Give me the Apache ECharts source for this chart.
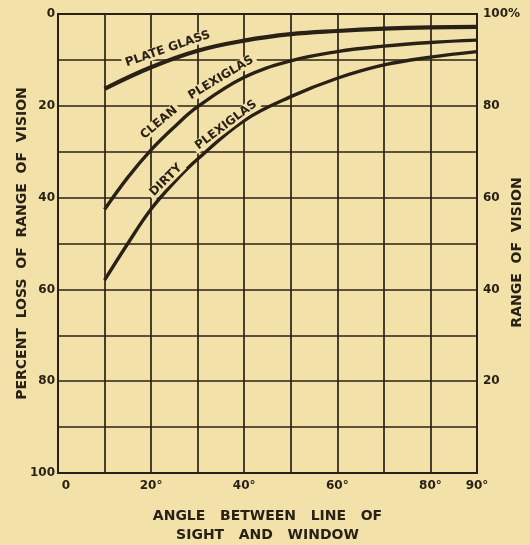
<!DOCTYPE html>
<html><head><meta charset="utf-8">
<script src="https://cdn.jsdelivr.net/npm/echarts@6/dist/echarts.min.js"></script>
<style>html,body{margin:0;padding:0;background:#f2e2aa;}#c{width:530px;height:545px;}</style>
</head><body><div id="c"></div>
<script>
// Angle between line of sight and window (degrees)
var plateX = [10, 20, 30, 40, 50, 60, 70, 80, 90];
var plateY = [16.3, 11.6, 8.0, 5.8, 4.4, 3.7, 3.2, 2.9, 2.8];
var cleanX = [10, 15, 20, 25, 30, 40, 50, 60, 70, 80, 90];
var cleanY = [42.6, 35.6, 29.6, 24.6, 20.2, 13.8, 10.2, 8.2, 7.0, 6.2, 5.7];
var dirtyX = [10, 15, 20, 25, 30, 40, 50, 60, 70, 80, 90];
var dirtyY = [58.0, 50.0, 42.5, 36.6, 31.6, 23.2, 18.0, 14.0, 11.1, 9.4, 8.2];
// Curve labels (text, data position, rotation in degrees)
var curveLabelText = ['PLATE GLASS', 'CLEAN', 'PLEXIGLAS', 'DIRTY', 'PLEXIGLAS'];
var curveLabelX = [23.6, 21.7, 35.0, 23.2, 36.1];
var curveLabelY = [7.6, 23.7, 13.9, 36.2, 24.2];
var curveLabelRot = [19, 40, 31, 45, 37];

var ink = '#2a2116', bg = '#f2e2aa';
var font = 'DejaVu Sans';
function pairs(xs, ys) { return xs.map(function (x, i) { return [x, ys[i]]; }); }

var chart = echarts.init(document.getElementById('c'));
chart.setOption({
  backgroundColor: bg,
  animation: false,
  grid: { left: 58, right: 53, top: 14, bottom: 72, outerBoundsMode: 'none', containLabel: false, show: true, borderColor: ink, borderWidth: 2, backgroundColor: 'transparent' },
  xAxis: {
    type: 'value', min: 0, max: 90, interval: 10,
    name: 'ANGLE   BETWEEN   LINE   OF\nSIGHT   AND   WINDOW', nameLocation: 'middle', nameGap: 34, nameMoveOverlap: false,
    nameTextStyle: { color: ink, fontFamily: font, fontWeight: 'bold', fontSize: 14, lineHeight: 19 },
    axisLine: { show: true, lineStyle: { color: ink, width: 2 } },
    axisTick: { show: false },
    splitLine: { show: true, lineStyle: { color: ink, width: 1.7 } },
    axisLabel: {
      color: ink, fontFamily: font, fontWeight: 'bold', fontSize: 12, margin: 7,
      formatter: function (v) {
        if (v === 0) return '{z|0}';
        if (v % 20 === 0 || v === 90) return v + '°';
        return '';
      },
      rich: { z: { padding: [0, 0, 0, 16], color: ink, fontFamily: font, fontWeight: 'bold', fontSize: 12 } }
    }
  },
  yAxis: [{
    type: 'value', min: 0, max: 100, interval: 10, inverse: true, position: 'left',
    name: 'PERCENT  LOSS  OF  RANGE  OF  VISION', nameLocation: 'middle', nameGap: 29, nameRotate: 90, nameMoveOverlap: false,
    nameTextStyle: { color: ink, fontFamily: font, fontWeight: 'bold', fontSize: 14 },
    axisLine: { show: true, lineStyle: { color: ink, width: 2 } },
    axisTick: { show: false },
    splitLine: { show: true, lineStyle: { color: ink, width: 1.7 } },
    axisLabel: {
      color: ink, fontFamily: font, fontWeight: 'bold', fontSize: 12, margin: 3,
      formatter: function (v) { return v % 20 === 0 ? String(v) : ''; }
    }
  }, {
    type: 'value', min: 0, max: 100, interval: 10, position: 'right',
    name: 'RANGE  OF  VISION', nameLocation: 'middle', nameGap: 33, nameRotate: 90, nameMoveOverlap: false,
    nameTextStyle: { color: ink, fontFamily: font, fontWeight: 'bold', fontSize: 14, padding: [0, 18, 0, 0] },
    axisLine: { show: true, lineStyle: { color: ink, width: 2 } },
    axisTick: { show: false },
    splitLine: { show: false },
    axisLabel: {
      color: ink, fontFamily: font, fontWeight: 'bold', fontSize: 12, margin: 6,
      formatter: function (v) { return v === 100 ? '100%' : (v > 0 && v % 20 === 0 ? String(v) : ''); }
    }
  }],
  series: [
    { type: 'line', name: 'Plate glass', data: pairs(plateX, plateY), smooth: 0.4, showSymbol: false, lineStyle: { color: ink, width: 4.2, cap: 'butt' } },
    { type: 'line', name: 'Clean plexiglas', data: pairs(cleanX, cleanY), smooth: 0.4, showSymbol: false, lineStyle: { color: ink, width: 3.4, cap: 'butt' } },
    { type: 'line', name: 'Dirty plexiglas', data: pairs(dirtyX, dirtyY), smooth: 0.4, showSymbol: false, lineStyle: { color: ink, width: 3.4, cap: 'butt' } }
  ]
});

var els = curveLabelText.map(function (t, i) {
  var p = chart.convertToPixel({ xAxisIndex: 0, yAxisIndex: 0 }, [curveLabelX[i], curveLabelY[i]]);
  return {
    type: 'text', x: p[0], y: p[1], rotation: curveLabelRot[i] * Math.PI / 180, z: 100,
    style: { text: t, fill: ink, font: 'bold 12px "' + font + '"', align: 'center', verticalAlign: 'middle', backgroundColor: bg, padding: [0, 3] }
  };
});
chart.setOption({ graphic: els });
</script></body></html>
